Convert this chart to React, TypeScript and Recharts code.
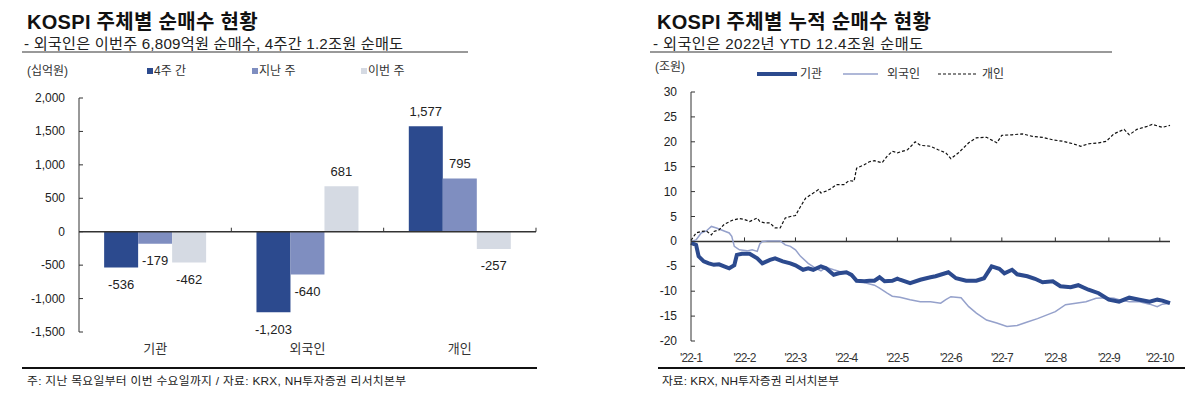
import React from 'react';
import { BarChart, Bar, LineChart, Line, XAxis, YAxis, ReferenceLine, LabelList } from 'recharts';

const FONT = "'Liberation Sans', Arial, 'Noto Sans CJK KR', sans-serif";
const DARK = '#2C4A8E';
const MID = '#7F8EC0';
const LIGHT = '#D5DAE3';
const FOREIGN_LINE = '#95A1CB';

// ---- Left chart data ----
const categories = ['기관', '외국인', '개인'];
const fourWeeks = [-536, -1203, 1577];
const lastWeek = [-179, -640, 795];
const thisWeek = [-462, 681, -257];
const barTicks = [-1500, -1000, -500, 0, 500, 1000, 1500, 2000];

// ---- Right chart data (x = trading-day index since 2022-01-03) ----
const monthTickDays = [0, 21, 41, 61, 81, 102, 122, 143, 164, 184];
const monthTickLabels = ["'22-1", "'22-2", "'22-3", "'22-4", "'22-5", "'22-6", "'22-7", "'22-8", "'22-9", "'22-10"];
const lineTicks = [-20, -15, -10, -5, 0, 5, 10, 15, 20, 25, 30];

const giwanDays = [0, 2, 3, 5, 7, 9, 11, 13, 15, 17, 18, 20, 23, 26, 28, 31, 33, 36, 39, 41, 44, 46, 48, 51, 53, 56, 58, 61, 63, 65, 68, 70, 72, 74, 76, 79, 81, 82, 86, 90, 94, 96, 101, 104, 108, 112, 115, 118, 121, 123, 126, 128, 132, 135, 138, 142, 145, 149, 152, 156, 160, 164, 168, 172, 176, 180, 183, 185, 188];
const giwanValues = [-0.3, -0.7, -3.0, -4.0, -4.4, -4.7, -4.6, -5.0, -5.4, -4.8, -2.7, -2.5, -2.5, -3.4, -4.4, -3.7, -3.4, -4.0, -4.4, -4.8, -5.7, -5.4, -5.7, -5.0, -5.4, -6.7, -6.4, -6.2, -6.7, -7.9, -8.0, -7.9, -7.9, -7.2, -8.0, -7.9, -7.5, -7.7, -8.4, -7.7, -7.2, -7.0, -6.2, -7.4, -7.9, -7.9, -7.4, -5.0, -5.5, -6.4, -5.7, -6.6, -7.0, -7.5, -8.2, -8.0, -9.0, -9.2, -8.8, -9.7, -10.4, -11.7, -12.1, -11.3, -11.7, -12.1, -11.7, -11.9, -12.4];

const foreignDays = [0, 2, 4, 6, 8, 10, 13, 15, 16, 17, 19, 22, 24, 26, 27, 28, 30, 32, 35, 37, 39, 41, 43, 46, 49, 51, 53, 56, 58, 61, 64, 66, 69, 72, 74, 77, 79, 82, 86, 90, 94, 98, 100, 102, 106, 109, 112, 116, 120, 124, 128, 132, 136, 140, 143, 147, 151, 155, 159, 163, 166, 168, 172, 176, 180, 183, 185, 188];
const foreignValues = [0, 0.3, 1.7, 2.1, 3.0, 2.7, 2.1, 1.7, 1.0, -1.0, -1.7, -1.9, -1.7, -2.0, -0.5, 0, 0.1, 0.1, 0.1, -0.7, -1.0, -1.7, -3.0, -4.4, -5.4, -5.9, -5.2, -5.7, -6.0, -6.4, -7.4, -7.9, -8.4, -8.8, -9.4, -10.4, -11.0, -11.2, -11.7, -12.1, -12.1, -12.4, -11.7, -11.1, -11.3, -13.1, -14.4, -15.8, -16.4, -17.1, -16.9, -16.2, -15.5, -14.7, -14.1, -12.7, -12.4, -12.1, -11.4, -11.3, -11.4, -11.7, -12.1, -12.1, -12.6, -13.1, -12.6, -12.4];

const retailDays = [0, 2, 4, 6, 8, 9, 11, 13, 16, 19, 21, 23, 26, 27, 29, 31, 33, 35, 37, 39, 41, 43, 45, 48, 50, 51, 53, 55, 57, 60, 62, 64, 65, 68, 70, 72, 75, 77, 79, 81, 85, 88, 90, 94, 97, 100, 102, 105, 109, 112, 116, 120, 122, 126, 130, 134, 138, 142, 146, 150, 153, 156, 160, 163, 166, 170, 172, 175, 179, 181, 185, 188];
const retailValues = [0.2, 1.7, 2.0, 2.1, 1.3, 2.0, 2.3, 3.4, 4.2, 4.6, 4.4, 4.0, 4.7, 4.0, 3.7, 3.7, 2.7, 2.7, 4.7, 5.0, 5.2, 7.0, 8.7, 9.7, 10.4, 9.7, 10.1, 10.6, 11.4, 11.4, 12.2, 12.1, 14.7, 15.4, 16.0, 16.2, 15.8, 17.1, 18.1, 17.8, 18.4, 20.0, 19.3, 19.1, 18.4, 17.8, 16.6, 17.8, 19.8, 20.8, 20.9, 19.8, 21.3, 21.4, 21.6, 21.1, 20.9, 20.4, 20.1, 19.6, 19.1, 19.6, 19.8, 20.1, 21.6, 22.5, 21.4, 22.5, 23.1, 23.5, 22.9, 23.3];

const barData = categories.map((c, i) => ({ name: c, fourWeeks: fourWeeks[i], lastWeek: lastWeek[i], thisWeek: thisWeek[i] }));
const toSeries = (days: number[], vals: number[]) => days.map((d, i) => ({ d, v: vals[i] }));
const giwanData = toSeries(giwanDays, giwanValues);
const foreignData = toSeries(foreignDays, foreignValues);
const retailData = toSeries(retailDays, retailValues);

const fmtComma = (v: number) => Number(v).toLocaleString('en-US');

const YTick = (props: any) => {
  const { x, y, payload, gap, fmt } = props;
  const ax = x + gap;
  return (
    <g>
      <line x1={ax} x2={ax + 4} y1={y} y2={y} stroke="#333" strokeWidth={1} />
      <text x={x} y={y} dominantBaseline="central" textAnchor="end" fontSize={12} fill="#222" fontFamily={FONT}>
        {fmt(payload.value)}
      </text>
    </g>
  );
};

const BarLabel = (props: any) => {
  const vb = props.viewBox && props.viewBox.width !== undefined ? props.viewBox : props;
  const { x, y, width, height } = vb;
  const value = Number(props.value);
  const top = Math.min(y, y + height);
  const bottom = Math.max(y, y + height);
  const cx = x + width / 2;
  const ty = value < 0 ? bottom + 17 : top - 15;
  return (
    <text x={cx} y={ty} textAnchor="middle" dominantBaseline="central" fontSize={13} fill="#222" fontFamily={FONT}>
      {fmtComma(value)}
    </text>
  );
};

const ZeroAxisLeft = (props: any) => {
  const { x1, x2, y1 } = props;
  const n = categories.length;
  const ticks = [];
  for (let k = 1; k <= n; k++) {
    const tx = x1 + ((x2 - x1) * k) / n;
    ticks.push(<line key={k} x1={tx} x2={tx} y1={y1} y2={y1 - 4} stroke="#333" strokeWidth={1} />);
  }
  return (
    <g>
      <line x1={x1} x2={x2} y1={y1} y2={y1} stroke="#333" strokeWidth={1.5} />
      {ticks}
    </g>
  );
};

export default function App() {
  return (
    <div style={{ position: 'absolute', left: 0, top: 0, width: 1198, height: 395, background: '#fff', fontFamily: FONT }}>
      <div style={{ position: 'absolute', left: 0, top: 0 }}>
        <BarChart width={560} height={395} data={barData} margin={{ top: 98, right: 24, bottom: 33, left: 0 }} barCategoryGap="16.5%" barGap={0}>
          <XAxis dataKey="name" axisLine={false} tickLine={false} tickSize={0} tickMargin={12} height={30} interval={0}
            tick={{ fontSize: 13, fill: '#333', fontFamily: FONT }} />
          <YAxis type="number" domain={[-1500, 2000]} ticks={barTicks} width={79} axisLine={{ stroke: '#333' }} tickLine={false}
            tickSize={0} tickMargin={14} interval={0}
            tick={(p: any) => <YTick {...p} gap={14} fmt={fmtComma} />} />
          <Bar dataKey="fourWeeks" fill={DARK} isAnimationActive={false}>
            <LabelList dataKey="fourWeeks" content={BarLabel} />
          </Bar>
          <Bar dataKey="lastWeek" fill={MID} isAnimationActive={false}>
            <LabelList dataKey="lastWeek" content={BarLabel} />
          </Bar>
          <Bar dataKey="thisWeek" fill={LIGHT} isAnimationActive={false}>
            <LabelList dataKey="thisWeek" content={BarLabel} />
          </Bar>
          <ReferenceLine y={0} shape={ZeroAxisLeft} />
        </BarChart>
      </div>

      <div style={{ position: 'absolute', left: 600, top: 0 }}>
        <LineChart width={598} height={395} margin={{ top: 92, right: 28, bottom: 24, left: 0 }}>
          <XAxis type="number" dataKey="d" domain={[0, 188]} ticks={monthTickDays} interval={0}
            tickFormatter={(v: number) => monthTickLabels[monthTickDays.indexOf(v)]}
            axisLine={false} tickLine={false} tickSize={0} tickMargin={12} height={30}
            tick={{ fontSize: 12, fill: '#333', fontFamily: FONT, letterSpacing: -0.9 }} />
          <YAxis type="number" domain={[-20, 30]} ticks={lineTicks} width={91} axisLine={{ stroke: '#333' }} tickLine={false}
            tickSize={0} tickMargin={14} interval={0}
            tick={(p: any) => <YTick {...p} gap={14} fmt={(v: number) => String(v)} />} />
          <ReferenceLine y={0} stroke="#333" strokeWidth={1.5} />
          {monthTickDays.slice(1).map((d) => (
            <ReferenceLine key={d} segment={[{ x: d, y: 0 }, { x: d, y: 0.8 }]} stroke="#333" strokeWidth={1} />
          ))}
          <Line data={foreignData} dataKey="v" type="linear" stroke={FOREIGN_LINE} strokeWidth={1.5} dot={false} isAnimationActive={false} />
          <Line data={giwanData} dataKey="v" type="linear" stroke={DARK} strokeWidth={4} dot={false} isAnimationActive={false} />
          <Line data={retailData} dataKey="v" type="linear" stroke="#111" strokeWidth={1.2} strokeDasharray="3 2" dot={false} isAnimationActive={false} />
        </LineChart>
      </div>

      <svg width={1198} height={395} style={{ position: 'absolute', left: 0, top: 0, pointerEvents: 'none' }}>
        {/* Left header */}
        <text x={27} y={22} fontSize={20} fontWeight="bold" fill="#111" dominantBaseline="central" fontFamily={FONT} letterSpacing={0.3}>KOSPI 주체별 순매수 현황</text>
        <text x={24} y={43} fontSize={15.2} fill="#222" dominantBaseline="central" fontFamily={FONT} letterSpacing={0.2}>- 외국인은 이번주 6,809억원 순매수, 4주간 1.2조원 순매도</text>
        <line x1={22} x2={468} y1={52} y2={52} stroke="#777" strokeWidth={1.5} />
        <text x={27} y={71} fontSize={12} fill="#333" dominantBaseline="central" fontFamily={FONT}>(십억원)</text>
        <rect x={147} y={68} width={6} height={6} fill={DARK} />
        <text x={154} y={71} fontSize={12} fill="#333" dominantBaseline="central" fontFamily={FONT}>4주 간</text>
        <rect x={252} y={68} width={6} height={6} fill={MID} />
        <text x={259} y={71} fontSize={12} fill="#333" dominantBaseline="central" fontFamily={FONT}>지난 주</text>
        <rect x={361} y={68} width={6} height={6} fill={LIGHT} />
        <text x={368} y={71} fontSize={12} fill="#333" dominantBaseline="central" fontFamily={FONT}>이번 주</text>
        {/* Left footer */}
        <line x1={22} x2={537} y1={368} y2={368} stroke="#111" strokeWidth={2} />
        <text x={27} y={381} fontSize={11.8} fill="#222" dominantBaseline="central" fontFamily={FONT} letterSpacing={0.3}>주: 지난 목요일부터 이번 수요일까지 / 자료: KRX, NH투자증권 리서치본부</text>

        {/* Right header */}
        <text x={657} y={22} fontSize={20} fontWeight="bold" fill="#111" dominantBaseline="central" fontFamily={FONT} letterSpacing={0.3}>KOSPI 주체별 누적 순매수 현황</text>
        <text x={653} y={43} fontSize={15.2} fill="#222" dominantBaseline="central" fontFamily={FONT} letterSpacing={0.4}>- 외국인은 2022년 YTD 12.4조원 순매도</text>
        <line x1={650} x2={1112} y1={52} y2={52} stroke="#777" strokeWidth={1.5} />
        <text x={655} y={67} fontSize={12} fill="#333" dominantBaseline="central" fontFamily={FONT}>(조원)</text>
        <line x1={757} x2={797} y1={74} y2={74} stroke={DARK} strokeWidth={4} />
        <text x={800} y={74} fontSize={12} fill="#333" dominantBaseline="central" fontFamily={FONT}>기관</text>
        <line x1={843} x2={878} y1={74} y2={74} stroke={FOREIGN_LINE} strokeWidth={1.5} />
        <text x={887} y={74} fontSize={12} fill="#333" dominantBaseline="central" fontFamily={FONT}>외국인</text>
        <line x1={938} x2={976} y1={74} y2={74} stroke="#111" strokeWidth={1.2} strokeDasharray="3 2" />
        <text x={982} y={74} fontSize={12} fill="#333" dominantBaseline="central" fontFamily={FONT}>개인</text>
        {/* Right footer */}
        <line x1={658} x2={1185} y1={368} y2={368} stroke="#111" strokeWidth={2} />
        <text x={662} y={381} fontSize={11.8} fill="#222" dominantBaseline="central" fontFamily={FONT}>자료: KRX, NH투자증권 리서치본부</text>
      </svg>
    </div>
  );
}
